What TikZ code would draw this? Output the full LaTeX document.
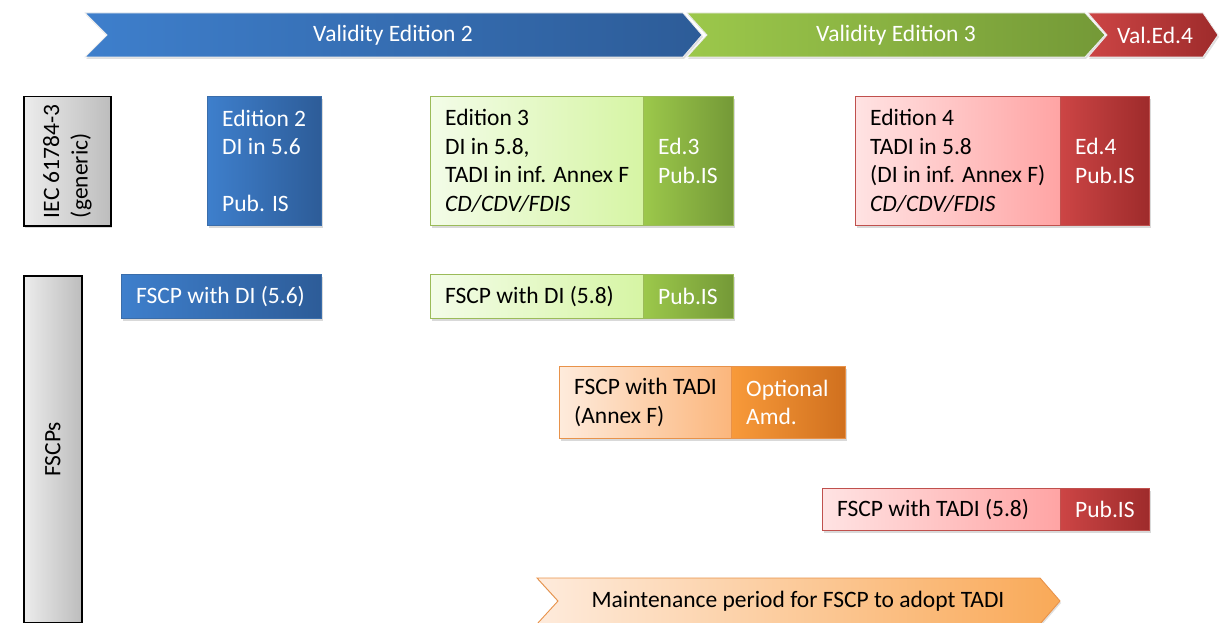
\documentclass[tikz,border=0pt]{standalone}
\usepackage{fontspec}
\setmainfont{Carlito}
\usetikzlibrary{shadows}
\definecolor{bA}{HTML}{3E7FCC}
\definecolor{bB}{HTML}{2D5C98}
\definecolor{bD}{HTML}{3A6DAA}
\definecolor{lgA}{HTML}{F3FCE8}
\definecolor{lgB}{HTML}{D6F5A4}
\definecolor{gA}{HTML}{9CC84B}
\definecolor{gB}{HTML}{749937}
\definecolor{gD}{HTML}{9BBB59}
\definecolor{pA}{HTML}{FFE3E3}
\definecolor{pB}{HTML}{FFA4A4}
\definecolor{rA}{HTML}{CC4545}
\definecolor{rB}{HTML}{9E2B2B}
\definecolor{rD}{HTML}{C0504D}
\definecolor{loA}{HTML}{FEEBDC}
\definecolor{loB}{HTML}{FBB67C}
\definecolor{oA}{HTML}{F89A3A}
\definecolor{oB}{HTML}{D0701E}
\definecolor{oD}{HTML}{E8924A}
\definecolor{grA}{HTML}{ECECEC}
\definecolor{grB}{HTML}{BDBDBD}
\newcommand{\fs}{\fontsize{23.5}{28.5}\selectfont}
\begin{document}
\begin{tikzpicture}[x=1pt,y=-1pt,
  box/.style={anchor=north west, inner sep=0pt, line width=0.9pt,
    drop shadow={opacity=0.3, shadow xshift=1.5pt, shadow yshift=-2.5pt}},
  bluebox/.style={box, left color=bA, right color=bB, draw=bD},
  lgreenbox/.style={box, left color=lgA, right color=lgB, draw=gD},
  greenbox/.style={box, left color=gA, right color=gB, draw=gD},
  pinkbox/.style={box, left color=pA, right color=pB, draw=rD},
  redbox/.style={box, left color=rA, right color=rB, draw=rD},
  lorangebox/.style={box, left color=loA, right color=loB, draw=oD},
  orangebox/.style={box, left color=oA, right color=oB, draw=oD},
  graybox/.style={box, left color=grA, right color=grB, draw=black, line width=1.5pt},
  txt/.style={inner sep=0pt, align=left, font=\fs, anchor=west},
  wtxt/.style={txt, text=white},
  chev/.style={draw=white!85!gray, line width=0.8pt,
    drop shadow={opacity=0.25, shadow xshift=1pt, shadow yshift=-2pt}}
]
\useasboundingbox (0,0) rectangle (1220,623);

% top chevrons
\path[chev, left color=bA, right color=bB] (85,13) -- (683,13) -- (702,35) -- (683,57) -- (85,57) -- (107,35) -- cycle;
\path[chev, left color=gA, right color=gB] (687,13) -- (1085,13) -- (1105,35) -- (1085,57) -- (687,57) -- (707,35) -- cycle;
\path[chev, left color=rA, right color=rB] (1088,13) -- (1203,13) -- (1218,35) -- (1203,57) -- (1088,57) -- (1107,35) -- cycle;
\node[font=\fs, text=white, inner sep=0pt] (v2) at (393,35) {Validity Edition 2};
\node[font=\fs, text=white, inner sep=0pt] (v3) at (896,35) {Validity Edition 3};
\node[font=\fs, text=white, inner sep=0pt] (v4) at (1155,35) {Val.Ed.4};

% row labels
\node[graybox, minimum width=87pt, minimum height=129pt] (iec) at (23,96) {};
\node[font=\fs, rotate=90, align=left, inner sep=0pt] (iect) at (iec.center) {IEC 61784-3\\(generic)};
\node[graybox, minimum width=58pt, minimum height=347pt] (fscps) at (23,275) {};
\node[font=\fs, rotate=90, inner sep=0pt] (fscpst) at (fscps.center) {FSCPs};

% IEC editions
\node[bluebox, minimum width=114pt, minimum height=129pt] (ed2) at (207,96) {};
\node[wtxt] (ed2t) at ([xshift=15pt]ed2.west) {Edition 2\\DI in 5.6\\\mbox{}\\Pub. IS};

\node[lgreenbox, minimum width=213pt, minimum height=129pt] (ed3) at (430,96) {};
\node[greenbox, minimum width=90pt, minimum height=129pt] (ed3p) at (643,96) {};
\node[txt] (ed3t) at ([xshift=15pt]ed3.west) {Edition 3\\DI in 5.8,\\TADI in inf. Annex F\\\textit{CD/CDV/FDIS}};
\node[wtxt] (ed3pt) at ([xshift=15pt]ed3p.west) {Ed.3\\Pub.IS};

\node[pinkbox, minimum width=205pt, minimum height=129pt] (ed4) at (855,96) {};
\node[redbox, minimum width=89pt, minimum height=129pt] (ed4p) at (1060,96) {};
\node[txt] (ed4t) at ([xshift=15pt]ed4.west) {Edition 4\\TADI in 5.8\\(DI in inf. Annex F)\\\textit{CD/CDV/FDIS}};
\node[wtxt] (ed4pt) at ([xshift=15pt]ed4p.west) {Ed.4\\Pub.IS};

% FSCPs
\node[bluebox, minimum width=200pt, minimum height=44pt] (f56) at (121,274) {};
\node[wtxt] (f56t) at ([xshift=15pt]f56.west) {FSCP with DI (5.6)};

\node[lgreenbox, minimum width=213pt, minimum height=44pt] (f58) at (430,274) {};
\node[greenbox, minimum width=90pt, minimum height=44pt] (f58p) at (643,274) {};
\node[txt] (f58t) at ([xshift=15pt]f58.west) {FSCP with DI (5.8)};
\node[wtxt] (f58pt) at ([xshift=15pt]f58p.west) {Pub.IS};

\node[lorangebox, minimum width=172pt, minimum height=72pt] (fa) at (559,366) {};
\node[orangebox, minimum width=114pt, minimum height=72pt] (fap) at (731,366) {};
\node[txt] (fat) at ([xshift=15pt]fa.west) {FSCP with TADI\\(Annex F)};
\node[wtxt] (fapt) at ([xshift=15pt]fap.west) {Optional\\Amd.};

\node[pinkbox, minimum width=238pt, minimum height=42pt] (ft) at (822,488) {};
\node[redbox, minimum width=89pt, minimum height=42pt] (ftp) at (1060,488) {};
\node[txt] (ftt) at ([xshift=15pt]ft.west) {FSCP with TADI (5.8)};
\node[wtxt] (ftpt) at ([xshift=15pt]ftp.west) {Pub.IS};

% maintenance arrow
\path[draw=oD, line width=0.9pt, left color=loA, right color=oA!85,
  drop shadow={opacity=0.25, shadow xshift=1pt, shadow yshift=-2pt}]
  (537,578) -- (1040,578) -- (1060,601) -- (1040,624) -- (537,624) -- (558,601) -- cycle;
\node[font=\fs, inner sep=0pt] (mt) at (798,601) {Maintenance period for FSCP to adopt TADI};
\end{tikzpicture}
\end{document}
